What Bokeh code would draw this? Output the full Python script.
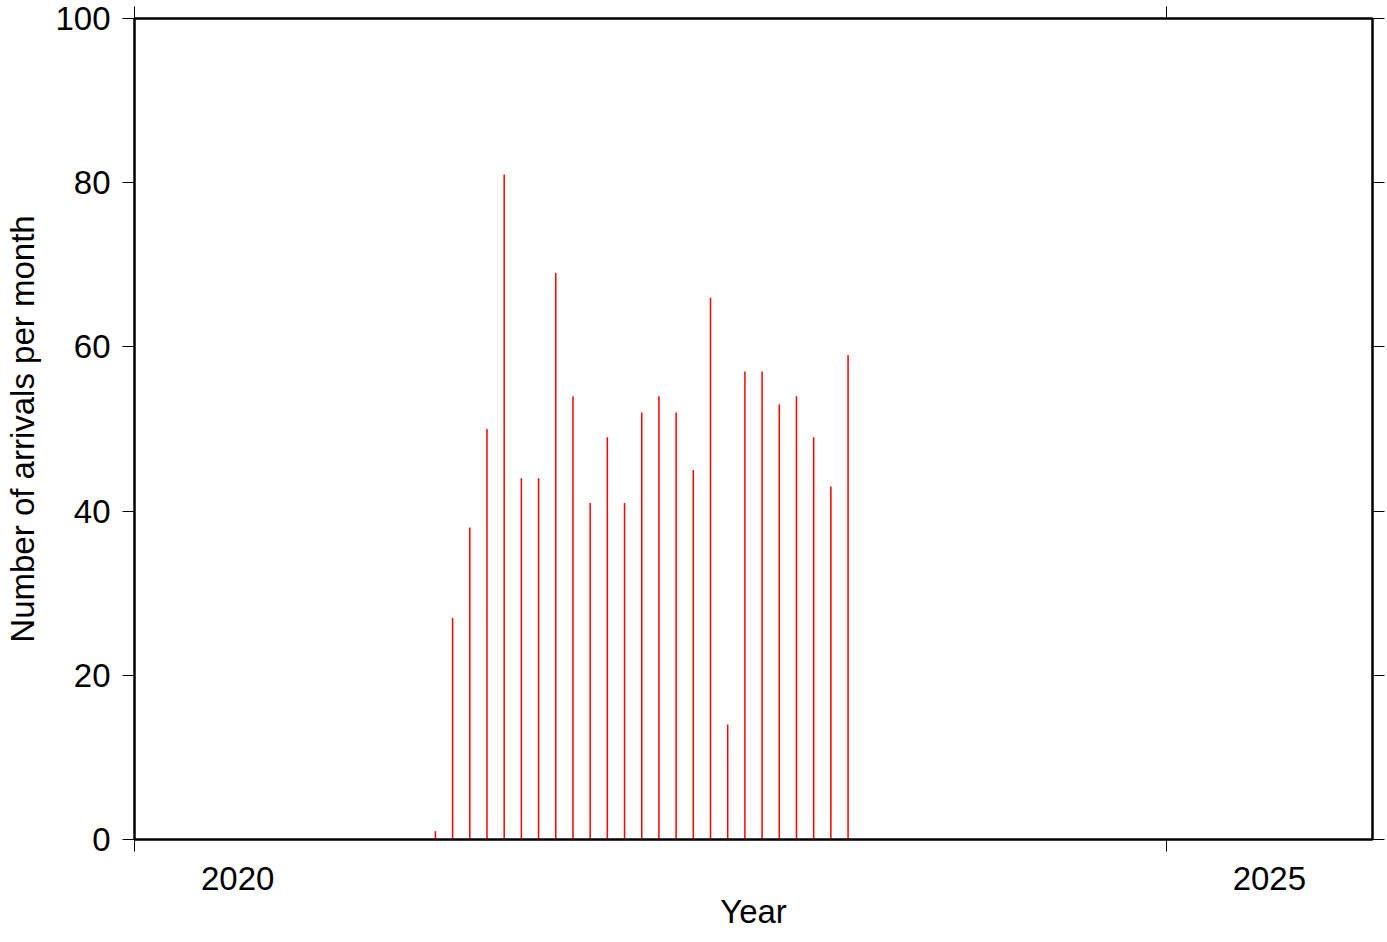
from bokeh.plotting import figure
from bokeh.models import ColumnDataSource, FixedTicker, LinearAxis, CustomJSTickFormatter
from bokeh.embed import file_html
from bokeh.resources import INLINE

# ---- data ----
months = ["2021-06", "2021-07", "2021-08", "2021-09", "2021-10", "2021-11",
          "2021-12", "2022-01", "2022-02", "2022-03", "2022-04", "2022-05",
          "2022-06", "2022-07", "2022-08", "2022-09", "2022-10", "2022-11",
          "2022-12", "2023-01", "2023-02", "2023-03", "2023-04", "2023-05",
          "2023-06"]
counts = [1, 27, 38, 50, 81, 44, 44, 69, 54, 41, 49, 41,
          52, 54, 52, 45, 66, 14, 57, 57, 53, 54, 49, 43, 59]
year_ticks = [2020, 2025]
year_labels = ["2020", "2025"]
y_ticks = [0, 20, 40, 60, 80, 100]

# month centre in decimal years
xs = [int(m[:4]) + (int(m[5:]) - 0.5) / 12.0 for m in months]
src = ColumnDataSource(dict(x=xs, y0=[0] * len(xs), count=counts))

FONT = "Liberation Sans"
FS = "33px"

p = figure(width=1387, height=942, x_range=(2020, 2026), y_range=(0, 100),
           output_backend="svg", toolbar_location=None,
           min_border_left=134, min_border_right=15,
           min_border_top=18, min_border_bottom=103)
p.grid.visible = False
p.outline_line_color = "black"
p.outline_line_width = 2
p.background_fill_color = "white"
p.border_fill_color = "white"

p.segment(x0="x", y0="y0", x1="x", y1="count", source=src,
          line_color="#ff0000", line_width=1.5)

blank = CustomJSTickFormatter(code="return '';")

# bottom axis: ticks at year boundaries, labels centred in the year
xa = p.xaxis[0]
label_pos = [int(s) + 0.5 for s in year_labels]
xa.ticker = FixedTicker(ticks=label_pos, minor_ticks=year_ticks)
xa.major_label_overrides = {lp: s for lp, s in zip(label_pos, year_labels)}
xa.major_tick_out = 12
xa.major_tick_in = 0
xa.major_tick_line_color = None
xa.minor_tick_out = 12
xa.minor_tick_in = 0
xa.minor_tick_line_color = "black"
xa.minor_tick_line_width = 1
xa.axis_line_width = 2
xa.major_label_standoff = 15
xa.major_label_text_font = FONT
xa.major_label_text_font_size = FS
xa.major_label_text_color = "black"
xa.axis_label = "Year"
xa.axis_label_standoff = 0
xa.axis_label_text_font = FONT
xa.axis_label_text_font_size = FS
xa.axis_label_text_font_style = "normal"
xa.axis_label_text_color = "black"

# left axis
ya = p.yaxis[0]
ya.ticker = FixedTicker(ticks=y_ticks)
ya.major_tick_out = 12
ya.major_tick_in = 0
ya.minor_tick_line_color = None
ya.major_tick_line_width = 1
ya.axis_line_width = 2
ya.major_label_standoff = 12
ya.major_label_text_font = FONT
ya.major_label_text_font_size = FS
ya.major_label_text_color = "black"
ya.axis_label = "Number of arrivals per month"
ya.axis_label_standoff = 11
ya.axis_label_text_font = FONT
ya.axis_label_text_font_size = FS
ya.axis_label_text_font_style = "normal"
ya.axis_label_text_color = "black"

# top axis (ticks only)
top = LinearAxis(ticker=FixedTicker(ticks=year_ticks), formatter=blank,
                 major_tick_out=12, major_tick_in=0,
                 minor_tick_line_color=None, major_label_standoff=0,
                 axis_line_width=2)
p.add_layout(top, "above")

# right axis (ticks only)
right = LinearAxis(ticker=FixedTicker(ticks=y_ticks), formatter=blank,
                   major_tick_out=12, major_tick_in=0,
                   minor_tick_line_color=None, major_label_standoff=0,
                   axis_line_width=2)
p.add_layout(right, "right")

open("out.html", "w").write(file_html(p, INLINE))
